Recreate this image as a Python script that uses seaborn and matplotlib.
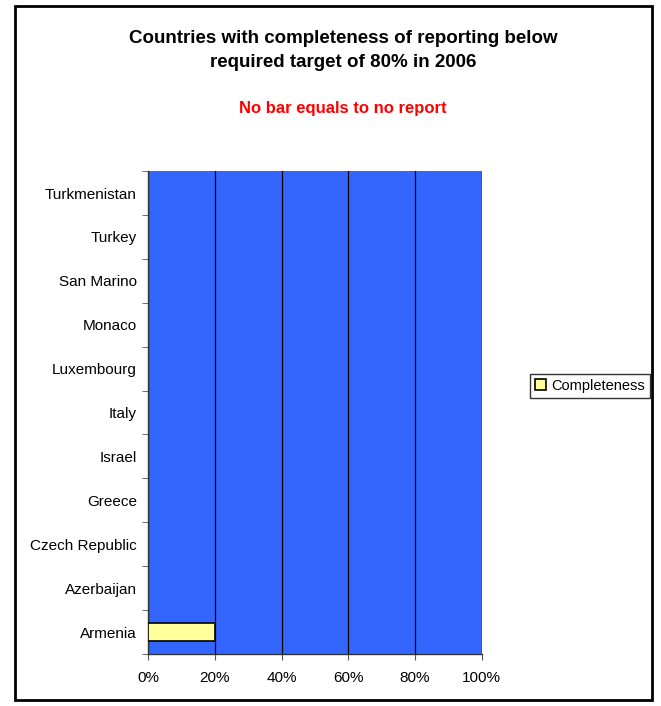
import numpy as np
import pandas as pd
import seaborn as sns
from matplotlib import pyplot as plt
from matplotlib.patches import Rectangle
from matplotlib.ticker import PercentFormatter

# countries listed top to bottom, NaN = no report
countries = ["Turkmenistan", "Turkey", "San Marino", "Monaco", "Luxembourg", "Italy",
             "Israel", "Greece", "Czech Republic", "Azerbaijan", "Armenia"]
completeness = [np.nan, np.nan, np.nan, np.nan, np.nan, np.nan,
                np.nan, np.nan, np.nan, np.nan, 20]
x_ticks = [0, 20, 40, 60, 80, 100]

df = pd.DataFrame({"Country": countries, "Completeness": completeness})

sns.set_style("white")
plt.rcParams["font.family"] = ["Liberation Sans", "DejaVu Sans"]
plt.rcParams["text.color"] = "black"
plt.rcParams["xtick.labelcolor"] = "black"
plt.rcParams["ytick.labelcolor"] = "black"

fig = plt.figure(figsize=(6.61, 7.06), dpi=100)
ax = fig.add_axes([0.224, 0.0737, 0.505, 0.684])
ax.set_facecolor("#3366FF")

sns.barplot(data=df, y="Country", x="Completeness", order=countries, orient="h",
            color="#FFFF99", edgecolor="black", linewidth=1.2, width=0.43,
            saturation=1, errorbar=None, ax=ax, label="Completeness", zorder=3)

ax.set_xlim(0, 100)
ax.set_xticks(x_ticks)
ax.xaxis.set_major_formatter(PercentFormatter(decimals=0))
ax.set_xlabel("")
ax.set_ylabel("")
ax.grid(axis="x", color="black", linewidth=0.9, zorder=1)
ax.set_axisbelow(True)

# tick marks between categories, like the original
ax.set_yticks(np.arange(len(countries)))
ax.set_yticks(np.arange(len(countries) + 1) - 0.5, minor=True)
ax.tick_params(axis="y", which="major", length=0, labelsize=11, pad=8)
ax.tick_params(axis="y", which="minor", length=4, color="#555555", left=True)
ax.tick_params(axis="x", length=4, color="#555555", labelsize=11, pad=8, bottom=True)

for s in ["top", "right"]:
    ax.spines[s].set_visible(False)
for s in ["left", "bottom"]:
    ax.spines[s].set_color("#333333")
    ax.spines[s].set_linewidth(1)

leg = ax.legend(loc="center left", bbox_to_anchor=(0.802, 0.4535), bbox_transform=fig.transFigure,
                fontsize=10.5, frameon=True, fancybox=False, edgecolor="black",
                handlelength=0.75, handleheight=0.75, handletextpad=0.35, borderpad=0.35,
                borderaxespad=0)
leg.get_frame().set_linewidth(1)

fig.text(0.519, 0.946, "Countries with completeness of reporting below",
         ha="center", va="center", fontsize=13.5, fontweight="bold")
fig.text(0.519, 0.912, "required target of 80% in 2006",
         ha="center", va="center", fontsize=13.5, fontweight="bold")
fig.text(0.519, 0.847, "No bar equals to no report",
         ha="center", va="center", fontsize=12, fontweight="bold", color="#FF0000")

# outer frame of the chart
fig.patches.append(Rectangle((0.022, 0.008), 0.965, 0.983, transform=fig.transFigure,
                             fill=False, edgecolor="black", linewidth=2))

plt.savefig("out.png", dpi=100)
